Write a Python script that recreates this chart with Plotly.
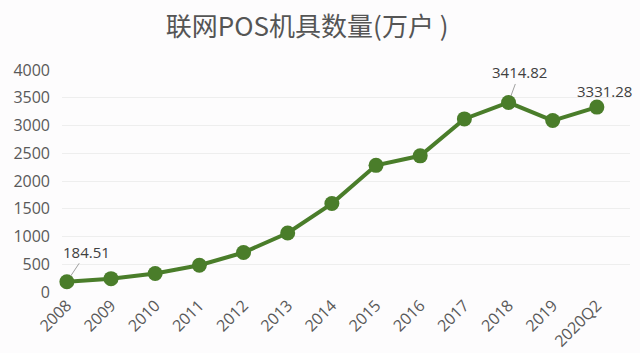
import plotly.graph_objects as go

categories = ["2008", "2009", "2010", "2011", "2012", "2013", "2014",
              "2015", "2016", "2017", "2018", "2019", "2020Q2"]
values = [184.51, 240.78, 333.4, 482.65, 711.78, 1063.21, 1593.5,
          2282.1, 2453.5, 3118.86, 3414.82, 3089.28, 3331.28]
y_ticks = [0, 500, 1000, 1500, 2000, 2500, 3000, 3500, 4000]
title_text = "联网POS机具数量(万户 )"

xs = list(range(len(categories)))
font_family = "Noto Sans CJK SC, Noto Sans, sans-serif"
tick_family = "Open Sans, Noto Sans, sans-serif"
green = "#4a7d2a"

fig = go.Figure()
fig.add_trace(go.Scatter(
    x=xs, y=values, mode="lines+markers",
    line=dict(color=green, width=4),
    marker=dict(color=green, size=15),
    cliponaxis=False, hoverinfo="skip"
))

ann_font = dict(family=tick_family, size=15, color="#404040")
fig.add_annotation(x=xs[0], y=values[0], text=f"{values[0]:.2f}",
                   showarrow=True, arrowhead=0, arrowwidth=1, arrowcolor="#a0a0a0",
                   ax=20, ay=-30, standoff=7, font=ann_font)
fig.add_annotation(x=xs[10], y=values[10], text=f"{values[10]:.2f}",
                   showarrow=True, arrowhead=0, arrowwidth=1, arrowcolor="#a0a0a0",
                   ax=11, ay=-30, standoff=7, font=ann_font)
fig.add_annotation(x=xs[12], y=values[12], text=f"{values[12]:.2f}",
                   showarrow=False, xshift=8, yshift=16, font=ann_font)

fig.update_layout(
    width=640, height=353,
    margin=dict(l=62, r=10, t=70, b=61),
    paper_bgcolor="#fdfcfd", plot_bgcolor="#fdfcfd",
    showlegend=False,
    title=dict(text=title_text, x=0.48, xanchor="center", y=0.925, yanchor="middle",
               font=dict(family=font_family, size=26, color="#555555")),
    xaxis=dict(range=[-0.11, 12.75], tickmode="array", tickvals=xs, ticktext=categories,
               tickangle=-45, showgrid=False, zeroline=False, showline=False,
               automargin=False,
               tickfont=dict(family=tick_family, size=16, color="#595959")),
    yaxis=dict(range=[0, 4000], tickmode="array", tickvals=y_ticks,
               ticktext=[str(v) for v in y_ticks], automargin=False,
               showgrid=True, gridcolor="#eeeeee", gridwidth=1, zeroline=False,
               ticks="", ticklabelstandoff=11,
               tickfont=dict(family=tick_family, size=16, color="#595959")),
)

fig.write_html("out.html")
